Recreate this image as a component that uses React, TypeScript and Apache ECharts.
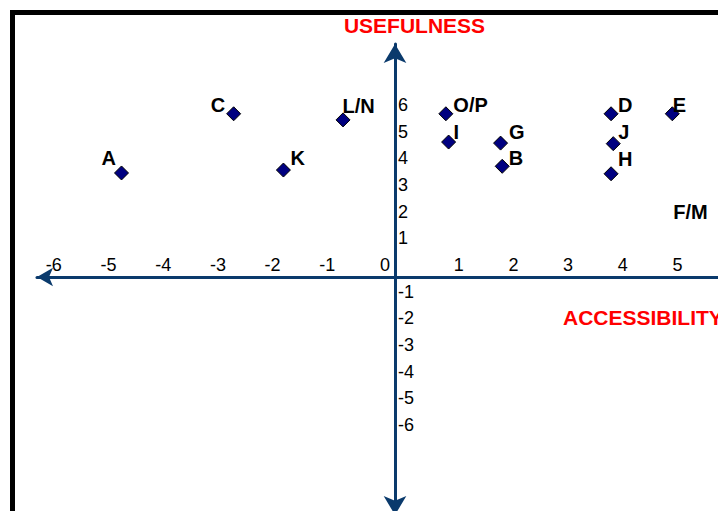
import React, { useEffect, useRef } from "react";
import * as echarts from "echarts";

// ---- data ----
const names = ["A", "B", "C", "D", "E", "F/M", "G", "H", "I", "J", "K", "L/N", "O/P"];
const accessibility = [-5.0, 1.96, -2.95, 3.95, 5.07, 5.4, 1.93, 3.95, 0.98, 3.99, -2.04, -0.95, 0.93];
const usefulness = [3.9, 4.15, 6.12, 6.12, 6.12, 2.42, 5.02, 3.87, 5.06, 5.0, 4.01, 5.89, 6.12];
const xTickLabels = [-6, -5, -4, -3, -2, -1, 0, 1, 2, 3, 4, 5];
const yTickLabels = [-6, -5, -4, -3, -2, -1, 1, 2, 3, 4, 5, 6];

// label placement (style, not data)
const labelPlacement: Record<string, { position: string; offset: number[] }> = {
  A: { position: "left", offset: [7, -15] },
  B: { position: "right", offset: [-6, -8] },
  C: { position: "left", offset: [4, -9] },
  D: { position: "right", offset: [-5.5, -8.5] },
  E: { position: "right", offset: [-12, -8.5] },
  "F/M": { position: "inside", offset: [0, 0] },
  G: { position: "right", offset: [-4, -11] },
  H: { position: "right", offset: [-5.5, -15] },
  I: { position: "right", offset: [-7.5, -10] },
  J: { position: "right", offset: [-7.5, -11.5] },
  K: { position: "right", offset: [-5.5, -12.5] },
  "L/N": { position: "right", offset: [-13, -14] },
  "O/P": { position: "right", offset: [-5, -9] },
};

const FONT = '"Liberation Sans", Arial, Helvetica, sans-serif';
const AXIS_COLOR = "#0A3A6C";

// layout of the plotting area (pixels)
const CHART_W = 718;
const CHART_H = 515; // slightly taller than the visible frame; the bottom arrow tip is cropped
const GRID_LEFT = 37;
const GRID_TOP = 44;
const ORIGIN_X = 395;
const ORIGIN_Y = 277;

export default function App() {
  const ref = useRef<HTMLDivElement>(null);

  useEffect(() => {
    if (!ref.current) return;
    const chart = echarts.init(ref.current, undefined, { renderer: "svg" });

    const data = names.map((n, i) => {
      const p = labelPlacement[n];
      const item: any = {
        name: n,
        value: [accessibility[i], usefulness[i]],
        label: { position: p.position, offset: p.offset },
      };
      if (n === "F/M") {
        item.itemStyle = { color: "rgba(0,0,0,0)", borderWidth: 0 };
      }
      return item;
    });

    chart.setOption({
      animation: false,
      backgroundColor: "#ffffff",
      grid: {
        left: GRID_LEFT,
        right: 0,
        top: GRID_TOP,
        bottom: 0,
        containLabel: false,
      },
      xAxis: {
        type: "value",
        position: "bottom",
        offset: -(CHART_H - ORIGIN_Y),
        min: -6.545,
        max: 5.905,
        axisLine: {
          onZero: false,
          symbol: ["arrow", "none"],
          symbolSize: [14, 16],
          lineStyle: { color: AXIS_COLOR, width: 3 },
        },
        axisTick: { show: false },
        splitLine: { show: false },
        axisLabel: {
          customValues: xTickLabels,
          inside: true,
          margin: 3,
          fontSize: 18,
          fontFamily: FONT,
          color: "#000",
          formatter: (v: number) =>
            v < 0 ? `{n|${v}}` : v === 0 ? `{z|${v}}` : `{p|${v}}`,
          rich: {
            n: { fontSize: 18, fontFamily: FONT, color: "#000", padding: [0, 26, 0, 0] },
            z: { fontSize: 18, fontFamily: FONT, color: "#000", padding: [0, 20, 0, 0] },
            p: { fontSize: 18, fontFamily: FONT, color: "#000", padding: [0, 0, 0, 18] },
          },
        },
      },
      yAxis: {
        type: "value",
        position: "left",
        offset: -(ORIGIN_X - GRID_LEFT),
        min: -8.924,
        max: 8.736,
        axisLine: {
          onZero: false,
          symbol: ["arrow", "arrow"],
          symbolSize: [17, 19],
          lineStyle: { color: AXIS_COLOR, width: 3 },
        },
        axisTick: { show: false },
        splitLine: { show: false },
        axisLabel: {
          customValues: yTickLabels,
          inside: true,
          margin: 3,
          fontSize: 18,
          fontFamily: FONT,
          color: "#000",
          formatter: (v: number) => `{a|${v}}`,
          rich: {
            a: { fontSize: 18, fontFamily: FONT, color: "#000", padding: [0, 0, 24, 0] },
          },
        },
      },
      graphic: [
        {
          type: "rect",
          shape: { x: 12.5, y: 12.5, width: 1000, height: 1000 },
          style: { fill: "none", stroke: "#000", lineWidth: 5 },
          silent: true,
        },
        {
          type: "text",
          x: 414.5,
          y: 25,
          style: {
            text: "USEFULNESS",
            fill: "#FF0000",
            fontSize: 21,
            fontWeight: "bold",
            fontFamily: FONT,
            align: "center",
            verticalAlign: "middle",
          },
        },
        {
          type: "text",
          x: 563,
          y: 317.5,
          style: {
            text: "ACCESSIBILITY",
            fill: "#FF0000",
            fontSize: 21,
            fontWeight: "bold",
            fontFamily: FONT,
            align: "left",
            verticalAlign: "middle",
          },
        },
      ],
      series: [
        {
          type: "scatter",
          symbol: "diamond",
          symbolSize: 14,
          itemStyle: { color: "#000080", borderColor: "#000", borderWidth: 1, opacity: 1 },
          label: {
            show: true,
            formatter: "{b}",
            fontSize: 20,
            fontWeight: "bold",
            fontFamily: FONT,
            color: "#000",
          },
          emphasis: { disabled: true },
          data,
        },
      ],
    });

    return () => chart.dispose();
  }, []);

  return (
    <div
      style={{
        position: "absolute",
        left: 0,
        top: 0,
        width: CHART_W,
        height: 511,
        overflow: "hidden",
      }}
    >
      <div ref={ref} style={{ width: CHART_W, height: CHART_H }} />
    </div>
  );
}
